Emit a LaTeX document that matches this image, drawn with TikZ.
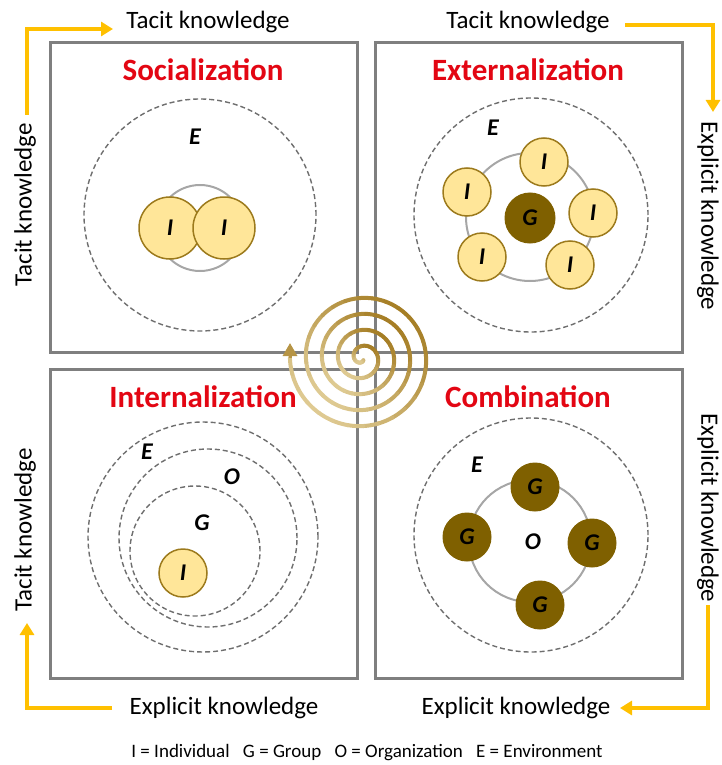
\documentclass[tikz,border=0pt]{standalone}
\usepackage{fontspec}
\setmainfont{Carlito}
\usepackage{tikz}
\usepackage{xcolor}
\usetikzlibrary{arrows.meta, positioning}

\definecolor{boxgray}{HTML}{7F7F7F}
\definecolor{dashgray}{HTML}{6E6E6E}
\definecolor{ringgray}{HTML}{A6A6A6}
\definecolor{titlered}{HTML}{E30613}
\definecolor{arrowgold}{HTML}{FFC000}
\definecolor{indfill}{HTML}{FFE699}
\definecolor{indedge}{HTML}{9C7A1C}
\definecolor{grpfill}{HTML}{7F6000}
\definecolor{spiraldark}{HTML}{9E7417}
\definecolor{spirallight}{HTML}{EEDFB0}

\begin{document}
\begin{tikzpicture}[
            x=1pt, y=-1pt,
            quadrant/.style={draw=boxgray, line width=3pt, minimum width=307pt, minimum height=309pt, inner sep=0pt},
            title/.style={text=titlered, font=\bfseries\fontsize{31}{37}\selectfont},
            envring/.style={circle, draw=dashgray, dash pattern=on 5pt off 3pt, line width=1.4pt, inner sep=0pt},
            grpring/.style={circle, draw=ringgray, line width=2pt, inner sep=0pt},
            member/.style={circle, inner sep=0pt, minimum size=48pt, font=\bfseries\itshape\fontsize{24}{28}\selectfont},
            indiv/.style={member, draw=indedge, fill=indfill, line width=1.5pt},
            group/.style={member, draw=grpfill, fill=grpfill, line width=1pt},
            unit/.style={font=\bfseries\itshape\fontsize{24}{28}\selectfont},
            axis/.style={font=\fontsize{25}{30}\selectfont},
            flow/.style={draw=arrowgold, line width=4pt, -{Triangle[length=12pt, width=14pt]}},
            spiral/.style={line width=4pt, line cap=round},
        ]
            \useasboundingbox (0,0) rectangle (722,765);

            % the four quadrants
            \node[quadrant] (soc) at (203.5,197.5) {};
            \node[quadrant] (ext) at (528.5,197.5) {};
            \node[quadrant] (int) at (203.5,523.5) {};
            \node[quadrant] (com) at (528.5,523.5) {};

            \node[title] (socT) at (203,70) {Socialization};
            \node[title] (extT) at (528,70) {Externalization};
            \node[title] (intT) at (203,397) {Internalization};
            \node[title] (comT) at (528,397) {Combination};

            % socialization
            \node[envring, minimum size=232pt] (socE) at (200,215) {};
            \node[grpring, minimum size=86pt] (socR) at (200,228) {};
            \node[indiv, minimum size=62pt] (socI1) at (170,228) {I};
            \node[indiv, minimum size=62pt] (socI2) at (224,228) {I};
            \node[unit] (socEl) at (195,137) {E};

            % externalization
            \node[envring, minimum size=234pt] (extE) at (531,215) {};
            \node[grpring, minimum size=128pt] (extR) at (530,217) {};
            \node[group, minimum size=50pt] (extG) at (530,218) {G};
            \node[indiv] (extI1) at (544,162) {I};
            \node[indiv] (extI2) at (467,192) {I};
            \node[indiv] (extI3) at (593,213) {I};
            \node[indiv] (extI4) at (482,257) {I};
            \node[indiv] (extI5) at (570,265) {I};
            \node[unit] (extEl) at (493,128) {E};

            % internalization
            \node[envring, minimum size=230pt] (intE) at (203,537) {};
            \node[envring, minimum size=178pt] (intO) at (208,538) {};
            \node[envring, minimum size=130pt] (intG) at (195,551) {};
            \node[unit] (intEl) at (147,452) {E};
            \node[unit] (intOl) at (232,477) {O};
            \node[unit] (intGl) at (202,523) {G};
            \node[indiv] (intI) at (183,573) {I};

            % combination
            \node[envring, minimum size=234pt] (comE) at (531,535) {};
            \node[grpring, minimum size=122pt] (comR) at (530,541) {};
            \node[group] (comG1) at (535,487) {G};
            \node[group] (comG2) at (467,537) {G};
            \node[group] (comG3) at (592,543) {G};
            \node[group] (comG4) at (540,605) {G};
            \node[unit] (comOl) at (533,542) {O};
            \node[unit] (comEl) at (477,465) {E};

            % spiral in the middle
            \foreach \k in {0,...,119} {
                \pgfmathsetmacro{\ta}{1+\k*0.2273}
                \pgfmathsetmacro{\tb}{\ta+0.2300}
                \pgfmathsetmacro{\tone}{max(10,min(95,55-28*sin(\ta r)+22*cos(\ta r)))}
                \draw[spiral, spiraldark!\tone!spirallight]
                    plot[domain=\ta:\tb, samples=6] ({362+2.55*\x*cos(\x r)}, {358+2.55*\x*sin(\x r)});
            }
            \coordinate (spiralend) at (290,358);
            \coordinate (spiraltip) at (290,343);
            \draw[line width=3pt, draw=spiraldark!70!spirallight, fill=spiraldark!70!spirallight,
                -{Triangle[length=13pt, width=14pt]}] (spiralend) -- (spiraltip);

            % axis texts
            \node[axis] (tacitTL) at (208,22) {Tacit knowledge};
            \node[axis] (tacitTR) at (528,22) {Tacit knowledge};
            \node[axis, rotate=90] (tacitL1) at (25,205) {Tacit knowledge};
            \node[axis, rotate=90] (tacitL2) at (25,530) {Tacit knowledge};
            \node[axis, rotate=-90] (explR1) at (708,216) {Explicit knowledge};
            \node[axis, rotate=-90] (explR2) at (708,508) {Explicit knowledge};
            \node[axis] (explB1) at (224,708) {Explicit knowledge};
            \node[axis] (explB2) at (516,708) {Explicit knowledge};

            % yellow arrows round the corners
            \coordinate (tlA) at (27,115);
            \coordinate (tlB) at (113,29);
            \coordinate (trA) at (625,25);
            \coordinate (trB) at (713,112);
            \coordinate (brA) at (708,605);
            \coordinate (brB) at (620,708);
            \coordinate (blA) at (112,708);
            \coordinate (blB) at (27,623);
            \draw[flow] (tlA) |- (tlB);
            \draw[flow] (trA) -| (trB);
            \draw[flow] (brA) |- (brB);
            \draw[flow] (blA) -| (blB);

            \node[font=\fontsize{19}{22}\selectfont] (legend) at (367,753)
                {I = Individual\hspace{0.7em}G = Group\hspace{0.7em}O = Organization\hspace{0.7em}E = Environment};
        \end{tikzpicture}
\end{document}
